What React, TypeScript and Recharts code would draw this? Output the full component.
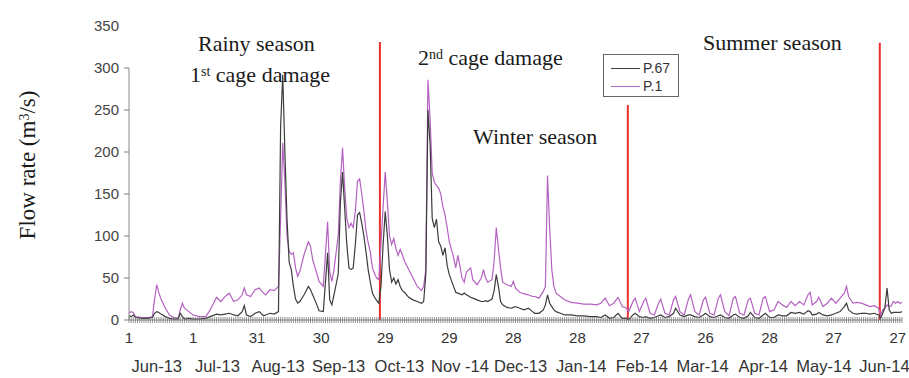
import React from "react";
import { Legend, Line, LineChart, ReferenceLine, XAxis, YAxis } from "recharts";

// day index counted from 1 Jun 2013, flow in m3/s
const days = [
  0, 1, 2, 3, 6, 9, 11, 12, 13, 14,
  15, 17, 19, 21, 23, 24, 25, 26, 28, 30,
  33, 36, 38, 41, 43, 45, 47, 49, 51, 53,
  54, 55, 57, 59, 61, 63, 64, 66, 68, 70,
  71, 72, 73, 74, 75, 76, 77, 78, 79, 80,
  82, 84, 85, 86, 88, 89, 91, 93, 94, 95,
  96, 98, 99, 100, 101, 102, 103, 104, 105, 106,
  107, 108, 109, 110, 111, 112, 113, 114, 115, 116,
  117, 118, 119, 120, 121, 122, 123, 124, 125, 126,
  127, 128, 129, 131, 133, 135, 137, 138, 139, 140,
  141, 142, 143, 144, 145, 146, 147, 148, 149, 150,
  152, 153, 154, 156, 157, 158, 160, 161, 163, 165,
  166, 167, 168, 170, 171, 172, 173, 174, 175, 177,
  179, 180, 181, 183, 185, 187, 189, 190, 192, 194,
  195, 196, 197, 198, 199, 200, 202, 204, 207, 210,
  213, 216, 219, 221, 223, 225, 227, 229, 231, 233,
  234, 236, 237, 239, 241, 242, 244, 246, 248, 249,
  251, 253, 255, 256, 258, 260, 262, 263, 265, 267,
  269, 270, 272, 274, 276, 277, 279, 281, 283, 284,
  286, 288, 290, 291, 293, 295, 297, 298, 300, 302,
  304, 306, 308, 310, 312, 314, 316, 318, 319, 320,
  322, 323, 325, 327, 329, 331, 333, 335, 336, 337,
  339, 341, 343, 345, 347, 349, 351, 352, 353, 354,
  355, 356, 357, 358, 359, 360, 361, 362,
];

const p67Flow = [
  5, 4, 6, 3, 2, 2, 3, 8, 10, 9,
  7, 4, 2, 1, 1, 8, 4, 1, 2, 1,
  1, 2, 4, 7, 6, 7, 8, 6, 5, 10,
  17, 6, 4, 8, 10, 5, 6, 8, 7, 10,
  230, 292, 200, 120, 69, 60, 40, 25, 20, 22,
  30, 40, 36, 30, 18, 11, 10, 80, 24, 18,
  30, 55, 140, 176, 133, 90, 62, 60, 62, 90,
  125, 128, 115, 100, 81, 60, 45, 32, 27, 23,
  20, 40, 90, 129, 100, 60, 45, 50, 43, 48,
  40, 35, 33, 27, 24, 22, 20, 22, 54, 250,
  210, 121, 110, 120, 93, 88, 77, 86, 65, 54,
  40, 33, 32, 30, 32, 30, 27, 26, 24, 22,
  22, 23, 22, 25, 35, 54, 40, 22, 18, 15,
  14, 15, 16, 14, 12, 14, 10, 8, 8, 12,
  18, 30, 20, 16, 12, 10, 8, 6, 6, 5,
  5, 4, 4, 3, 6, 2, 3, 8, 2, 2,
  0, 6, 8, 4, 3, 4, 2, 3, 5, 6,
  3, 4, 8, 14, 6, 4, 6, 6, 4, 3,
  6, 8, 4, 3, 5, 6, 3, 2, 6, 7,
  3, 2, 5, 9, 3, 2, 6, 8, 3, 3,
  6, 5, 5, 9, 8, 9, 7, 11, 10, 6,
  7, 9, 6, 5, 6, 8, 10, 16, 20, 12,
  8, 7, 8, 8, 7, 8, 6, 2, 8, 15,
  38, 12, 8, 9, 9, 9, 9, 10,
];

const p1Flow = [
  8, 10, 9, 4, 3, 3, 4, 25, 42, 32,
  25, 14, 6, 3, 2, 12, 20, 14, 10, 6,
  4, 4, 12, 27, 22, 28, 32, 22, 24, 30,
  38, 30, 28, 36, 38, 32, 30, 36, 35, 40,
  120, 211, 165, 100, 82, 78, 80, 62, 52, 58,
  78, 93, 88, 72, 55, 46, 40, 117, 57, 46,
  60, 101, 165, 205, 157, 121, 110, 115, 110, 130,
  165, 168, 150, 130, 106, 92, 81, 62, 55, 50,
  48, 90, 135, 176, 140, 100, 90, 97, 85, 77,
  84, 78, 70, 60, 50, 40, 35, 40, 60, 286,
  240, 175, 164, 160, 157, 150, 135, 125, 110, 93,
  75, 62, 77, 50, 45, 57, 62, 48, 42, 50,
  60, 50, 45, 48, 70, 110, 85, 62, 45, 42,
  40, 46, 38, 33, 31, 30, 28, 28, 26, 34,
  40, 172, 110, 60, 40, 32, 28, 24, 21, 20,
  19, 19, 18, 20, 26, 17, 20, 27, 16, 14,
  10, 22, 26, 10, 22, 26, 8, 6, 20, 25,
  8, 6, 24, 28, 10, 6, 25, 30, 10, 6,
  24, 27, 8, 6, 26, 30, 10, 5, 26, 28,
  8, 6, 24, 26, 8, 6, 26, 28, 10, 12,
  22, 18, 15, 22, 17, 22, 18, 30, 33, 18,
  22, 27, 16, 20, 26, 20, 26, 32, 40, 28,
  20, 21, 20, 18, 16, 17, 14, 6, 12, 14,
  18, 16, 17, 22, 20, 22, 20, 21,
];

const dayLabels = ["1", "1", "31", "30", "29", "29", "28", "28", "27", "26", "28", "27", "27"];
const monthLabels = [
  "Jun-13", "Jul-13", "Aug-13", "Sep-13", "Oct-13", "Nov -14", "Dec-13",
  "Jan-14", "Feb-14", "Mar-14", "Apr-14", "May-14", "Jun-14",
];
const yTicks = [0, 50, 100, 150, 200, 250, 300, 350];

// red season dividers: day position and top of the line (in flow units)
const breakDays = [117.5, 233.6, 351.6];
const breakTops = [331, 256, 330];

const rows = days.map((d, i) => ({ day: d, p67: p67Flow[i], p1: p1Flow[i] }));

const sans = "'Liberation Sans', Arial, sans-serif";
const serif = "'Liberation Serif', 'Times New Roman', serif";

const dayTicks = Array.from({ length: 363 }, (_, i) => i);
const monthTicks = monthLabels.map((_, i) => 13 + i * 28.4);

function DayTick({ x, y, payload }: any) {
  const v = payload.value;
  const idx = v % 30 === 0 ? v / 30 : -1;
  return (
    <g>
      <line x1={x} x2={x} y1={y - 3} y2={y + 3} stroke="#6a6a6a" strokeWidth={0.7} />
      {idx >= 0 && idx < dayLabels.length && (
        <text x={x} y={y + 23} textAnchor="middle" fontSize={15} fill="#333" fontFamily={sans}>
          {dayLabels[idx]}
        </text>
      )}
    </g>
  );
}

function MonthTick({ x, y, payload, index }: any) {
  return (
    <text x={x} y={y + 32} textAnchor="middle" fontSize={16.5} fill="#333" fontFamily={sans}>
      {monthLabels[index] ?? payload.value}
    </text>
  );
}

function FlowTick({ x, y, payload }: any) {
  return (
    <g>
      {payload.value <= 300 && <line x1={x - 5} x2={x} y1={y} y2={y} stroke="#808080" />}
      <text x={x - 10} y={y + 5} textAnchor="end" fontSize={15} fill="#444" fontFamily={sans}>
        {payload.value}
      </text>
    </g>
  );
}

function LegendBox({ payload }: any) {
  const items = [...(payload || [])].sort((a: any, b: any) => (a.value === "P.67" ? -1 : b.value === "P.67" ? 1 : 0));
  return (
    <div
      style={{
        border: "1px solid #666",
        background: "#fff",
        width: 76,
        height: 43,
        boxSizing: "border-box",
        padding: "4px 0 0 7px",
        fontFamily: sans,
        fontSize: 14,
        color: "#333",
      }}
    >
      {items.map((item: any) => (
        <div key={item.value} style={{ display: "flex", alignItems: "center", height: 18 }}>
          <span style={{ display: "inline-block", width: 29, height: 0, borderTop: `1.5px solid ${item.color}`, marginRight: 3 }} />
          {item.value}
        </div>
      ))}
    </div>
  );
}

const note = (left: number, top: number): React.CSSProperties => ({
  position: "absolute",
  left,
  top,
  fontFamily: serif,
  fontSize: 22,
  lineHeight: "22px",
  color: "#1a1a1a",
  whiteSpace: "nowrap",
});

const sup: React.CSSProperties = { fontSize: 14, verticalAlign: "top", position: "relative", top: -3 };

export default function App() {
  return (
    <div style={{ position: "absolute", left: 0, top: 0, width: 909, height: 378, background: "#fff" }}>
      <LineChart width={909} height={378} data={rows} margin={{ top: 26, right: 7, bottom: 8, left: 0 }}>
        <XAxis
          xAxisId="day"
          dataKey="day"
          type="number"
          domain={[0, 362]}
          ticks={dayTicks}
          interval={0}
          tick={<DayTick />}
          tickSize={0}
          tickMargin={0}
          tickLine={false}
          axisLine={{ stroke: "#8a8a8a" }}
          height={20}
        />
        <XAxis
          xAxisId="month"
          dataKey="day"
          type="number"
          domain={[0, 362]}
          ticks={monthTicks}
          interval={0}
          tick={<MonthTick />}
          tickSize={0}
          tickMargin={0}
          tickLine={false}
          axisLine={false}
          height={30}
        />
        <YAxis
          type="number"
          domain={[0, 350]}
          ticks={yTicks}
          interval={0}
          width={129}
          tick={<FlowTick />}
          tickSize={0}
          tickMargin={0}
          tickLine={false}
          axisLine={false}
        />
        <ReferenceLine
          xAxisId="day"
          segment={[{ x: 0, y: 0 }, { x: 0, y: 300 }]}
          stroke="#8a8a8a"
        />
        {breakDays.map((d, i) => (
          <ReferenceLine
            key={d}
            xAxisId="day"
            segment={[{ x: d, y: 0 }, { x: d, y: breakTops[i] }]}
            stroke="#e8302c"
            strokeWidth={2}
          />
        ))}
        <Line
          xAxisId="day"
          dataKey="p1"
          name="P.1"
          stroke="#b462c1"
          strokeWidth={1.2}
          dot={false}
          isAnimationActive={false}
        />
        <Line
          xAxisId="day"
          dataKey="p67"
          name="P.67"
          stroke="#3c3c3c"
          strokeWidth={1.2}
          dot={false}
          isAnimationActive={false}
        />
        <Legend
          layout="vertical"
          align="center"
          verticalAlign="middle"
          content={<LegendBox />}
          wrapperStyle={{ left: 603, top: 54, width: 76 }}
        />
      </LineChart>

      <div style={{ position: "absolute", inset: 0, pointerEvents: "none" }}>
        <div
          style={{
            position: "absolute",
            left: 27,
            top: 165,
            transform: "translate(-50%, -50%) rotate(-90deg)",
            fontFamily: serif,
            fontSize: 23,
            lineHeight: "23px",
            color: "#1a1a1a",
            whiteSpace: "nowrap",
          }}
        >
          Flow rate (m<span style={sup}>3</span>/s)
        </div>
        <div style={note(198, 33)}>Rainy season</div>
        <div style={note(190, 64)}>
          1<span style={sup}>st</span> cage damage
        </div>
        <div style={note(418, 47)}>
          2<span style={sup}>nd</span> cage damage
        </div>
        <div style={note(473, 126)}>Winter season</div>
        <div style={note(703, 32)}>Summer season</div>
      </div>
    </div>
  );
}
